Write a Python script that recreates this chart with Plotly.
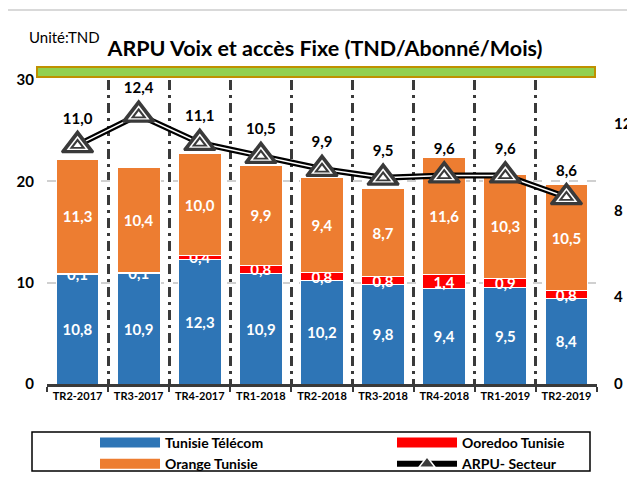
import plotly.graph_objects as go

categories = ["TR2-2017", "TR3-2017", "TR4-2017", "TR1-2018", "TR2-2018",
              "TR3-2018", "TR4-2018", "TR1-2019", "TR2-2019"]
tunisie_telecom = [10.8, 10.9, 12.3, 10.9, 10.2, 9.8, 9.4, 9.5, 8.4]
ooredoo = [0.1, 0.1, 0.4, 0.8, 0.8, 0.8, 1.4, 0.9, 0.8]
orange = [11.3, 10.4, 10.0, 9.9, 9.4, 8.7, 11.6, 10.3, 10.5]
arpu_secteur = [11.0, 12.4, 11.1, 10.5, 9.9, 9.5, 9.6, 9.6, 8.6]

FONT = "Lato"
DARK = "#3a3a3a"

# page body has an 8px default margin -> figure is drawn 8px right/down
OFF = 8
W, H = 635 - OFF, 480 - OFF

# plot area in screen px: x 47..597, y 80..384
def px_x(p):
    return (p - 47) / 550

def px_y(p):
    return (384 - p) / 304

fig = go.Figure()

def fmt(v):
    return f"{v:.1f}".replace(".", ",")

bar_specs = [
    ("Tunisie Télécom", tunisie_telecom, "#2e75b6", "legend"),
    ("Ooredoo Tunisie", ooredoo, "#ff0000", "legend2"),
    ("Orange Tunisie", orange, "#ed7d31", "legend"),
]
for name, vals, col, lg in bar_specs:
    fig.add_trace(go.Bar(
        x=categories, y=vals, name=name, legendgroup=name, showlegend=False,
        marker=dict(color=col, line=dict(color="white", width=1)),
        text=[fmt(v) for v in vals], textposition="inside",
        insidetextanchor="middle", textangle=0,
        textfont=dict(color="white", size=15, family=FONT, weight="bold"),
        cliponaxis=False, width=0.7,
    ))
    # legend swatch (wide rectangle like the original)
    fig.add_trace(go.Scatter(
        x=[None], y=[None], name=name, legendgroup=name, legend=lg,
        mode="lines", line=dict(color=col, width=12), showlegend=True,
    ))

# ARPU line (double stroke)
fig.add_trace(go.Scatter(
    x=categories, y=arpu_secteur, yaxis="y2", name="ARPU- Secteur",
    legend="legend2",
    mode="lines+markers",
    line=dict(color="black", width=6),
    marker=dict(symbol="triangle-up", size=14, color=DARK,
                line=dict(color="white", width=1.5)),
    showlegend=True,
))
fig.add_trace(go.Scatter(
    x=categories, y=arpu_secteur, yaxis="y2", mode="lines",
    line=dict(color="white", width=1.5), showlegend=False, hoverinfo="skip",
))
fig.add_trace(go.Scatter(
    x=categories, y=arpu_secteur, yaxis="y2", mode="markers+text",
    marker=dict(symbol="triangle-up", size=27, color=DARK,
                line=dict(color=DARK, width=2.5)),
    text=[fmt(v) for v in arpu_secteur], textposition="top center",
    textfont=dict(color="black", size=15, family=FONT, weight="bold"),
    showlegend=False, cliponaxis=False,
))
for sz, col in [(19, "white"), (14, DARK), (7, "white")]:
    fig.add_trace(go.Scatter(
        x=categories, y=arpu_secteur, yaxis="y2", mode="markers",
        marker=dict(symbol="triangle-up", size=sz, color=col,
                    line=dict(width=0)),
        showlegend=False, hoverinfo="skip", cliponaxis=False,
    ))

legend_common = dict(
    orientation="v", xanchor="left", yanchor="top",
    traceorder="normal", bgcolor="rgba(0,0,0,0)", borderwidth=0,
    font=dict(size=14, family=FONT, color="black", weight="bold"),
    itemwidth=60, tracegroupgap=0,
)

fig.update_layout(
    width=W, height=H,
    margin=dict(l=47 - OFF, r=(OFF + W) - 597, t=80 - OFF, b=(OFF + H) - 384,
                autoexpand=False),
    paper_bgcolor="white", plot_bgcolor="white",
    barmode="stack", separators=", ",
    font=dict(family=FONT, color="black"),
    uniformtext=dict(mode="show", minsize=15),
    title=dict(text="<b>ARPU Voix et accès Fixe (TND/Abonné/Mois)</b>",
               x=(325 - OFF) / W, xanchor="center",
               y=1 - (48 - OFF) / H, yanchor="middle",
               font=dict(size=21.5, family=FONT, color="black")),
    xaxis=dict(
        type="category", range=[-0.5, 8.5], tickson="boundaries",
        showgrid=True, gridcolor=DARK, griddash="10px,5px,3px,5px", gridwidth=2.5,
        showline=True, linecolor=DARK, linewidth=3,
        ticks="outside", ticklen=5, tickcolor=DARK, tickwidth=2,
        tickangle=0, automargin=False,
        tickfont=dict(size=11, family=FONT, color="black", weight="bold"),
    ),
    yaxis=dict(
        range=[0, 30], dtick=10, showgrid=True, gridcolor="#d0d0d0",
        griddash="dash", gridwidth=2, zeroline=False, showline=False,
        automargin=False,
        tickfont=dict(size=15, family=FONT, color="black", weight="bold"),
        ticklabelstandoff=12,
    ),
    yaxis2=dict(
        overlaying="y", side="right", range=[0, 14], dtick=4,
        showgrid=False, zeroline=False, showline=False, automargin=False,
        tickfont=dict(size=15, family=FONT, color="black", weight="bold"),
        ticklabelstandoff=16,
    ),
    legend=dict(x=px_x(95), y=px_y(427), **legend_common),
    legend2=dict(x=px_x(392), y=px_y(427), **legend_common),
    shapes=[
        dict(type="rect", xref="paper", yref="paper",
             x0=px_x(7), x1=px_x(640), y0=px_y(485), y1=px_y(10),
             line=dict(color="#d9d9d9", width=2), fillcolor="rgba(0,0,0,0)",
             layer="below"),
        dict(type="rect", xref="paper", yref="paper",
             x0=px_x(37), x1=px_x(595), y0=px_y(77), y1=px_y(67),
             line=dict(color="#bf9000", width=2), fillcolor="#92d050"),
        dict(type="rect", xref="paper", yref="paper",
             x0=px_x(32), x1=px_x(590), y0=px_y(471), y1=px_y(432),
             line=dict(color="black", width=1.5), fillcolor="rgba(0,0,0,0)"),
    ],
    annotations=[
        dict(text="Unité:TND", xref="paper", yref="paper",
             x=px_x(27), y=px_y(37),
             xanchor="left", yanchor="middle", showarrow=False,
             font=dict(size=15, family=FONT, color="black")),
    ],
)

fig.write_html("out.html")
